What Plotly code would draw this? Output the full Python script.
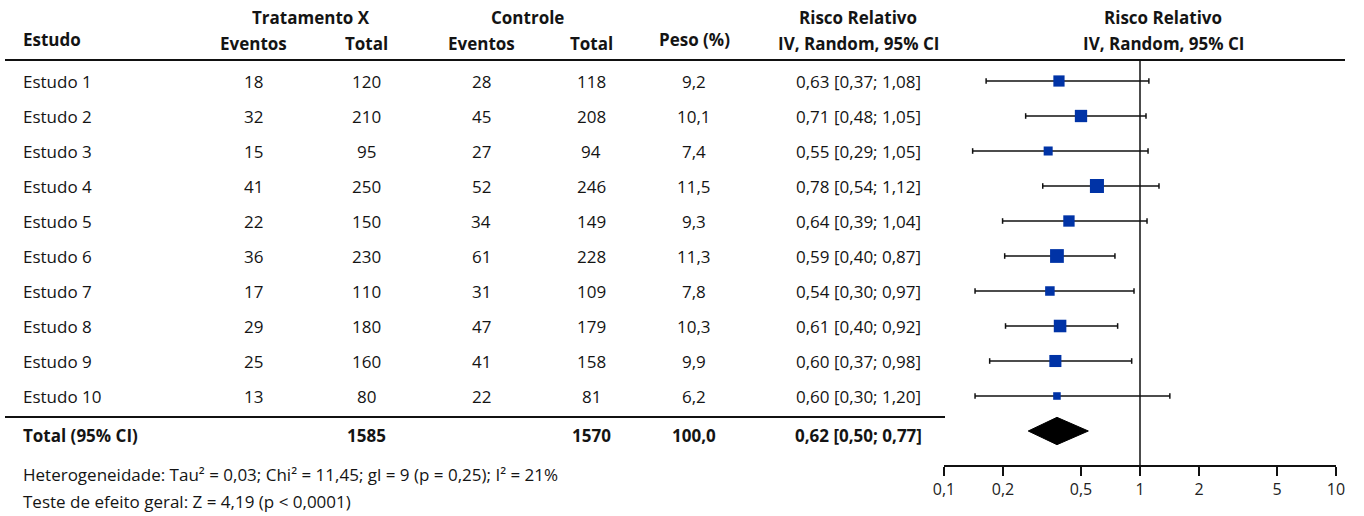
import plotly.graph_objects as go

W, H = 1364, 516

# ---------------- data ----------------
studies = ["Estudo 1", "Estudo 2", "Estudo 3", "Estudo 4", "Estudo 5",
           "Estudo 6", "Estudo 7", "Estudo 8", "Estudo 9", "Estudo 10"]
ev_t = [18, 32, 15, 41, 22, 36, 17, 29, 25, 13]
tot_t = [120, 210, 95, 250, 150, 230, 110, 180, 160, 80]
ev_c = [28, 45, 27, 52, 34, 61, 31, 47, 41, 22]
tot_c = [118, 208, 94, 246, 149, 228, 109, 179, 158, 81]
weights = [9.2, 10.1, 7.4, 11.5, 9.3, 11.3, 7.8, 10.3, 9.9, 6.2]
rr_text = ["0,63 [0,37; 1,08]", "0,71 [0,48; 1,05]", "0,55 [0,29; 1,05]",
           "0,78 [0,54; 1,12]", "0,64 [0,39; 1,04]", "0,59 [0,40; 0,87]",
           "0,54 [0,30; 0,97]", "0,61 [0,40; 0,92]", "0,60 [0,37; 0,98]",
           "0,60 [0,30; 1,20]"]
# positions of the drawn marks (log scale)
rr_pt = [0.386, 0.500, 0.340, 0.603, 0.434, 0.377, 0.347, 0.391, 0.370, 0.377]
rr_lo = [0.164, 0.261, 0.140, 0.319, 0.199, 0.204, 0.144, 0.206, 0.171, 0.144]
rr_hi = [1.11, 1.073, 1.099, 1.25, 1.086, 0.745, 0.932, 0.769, 0.907, 1.42]
tot_pt, tot_lo, tot_hi = 0.377, 0.269, 0.545

total_label = "Total (95% CI)"
total_t = "1585"
total_c = "1570"
total_w = "100,0"
total_rr = "0,62 [0,50; 0,77]"

het_text = "Heterogeneidade: Tau² = 0,03; Chi² = 11,45; gl = 9 (p = 0,25); I² = 21%"
eff_text = "Teste de efeito geral: Z = 4,19 (p < 0,0001)"

tick_vals = [0.1, 0.2, 0.5, 1, 2, 5, 10]
tick_text = ["0,1", "0,2", "0,5", "1", "2", "5", "10"]

# ---------------- style / layout helpers ----------------
FONT = "Open Sans"
TXT = "#141414"
BLUE = "#0033a6"
FS = 17

def px(x):
    return x / W

def py(y):
    return 1 - y / H

ROW0, ROWH = 81, 35   # pixel centre of first row, row spacing
n = len(studies)
total_idx = n

def fmt(v):
    return f"{v:.1f}".replace(".", ",")

fig = go.Figure()

# CI lines
xs, ys = [], []
for i in range(n):
    xs += [rr_lo[i], rr_hi[i], None]
    ys += [i, i, None]
fig.add_trace(go.Scatter(x=xs, y=ys, mode="lines",
                         line=dict(color="#111", width=1.5),
                         hoverinfo="skip", showlegend=False))
# end caps
fig.add_trace(go.Scatter(x=rr_lo + rr_hi, y=list(range(n)) * 2, mode="markers",
                         marker=dict(symbol="line-ns", size=4,
                                     line=dict(color="#111", width=1.5)),
                         hoverinfo="skip", showlegend=False))
# point estimates
fig.add_trace(go.Scatter(x=rr_pt, y=list(range(n)), mode="markers",
                         marker=dict(symbol="square", color=BLUE, opacity=1,
                                     size=[w * 1.22 for w in weights],
                                     line=dict(width=0)),
                         showlegend=False))
# diamond
dh = 0.39
fig.add_trace(go.Scatter(x=[tot_lo, tot_pt, tot_hi, tot_pt, tot_lo],
                         y=[total_idx, total_idx - dh, total_idx, total_idx + dh, total_idx],
                         mode="lines", fill="toself", fillcolor="black",
                         line=dict(color="black", width=1),
                         hoverinfo="skip", showlegend=False))

ann = []

def add_text(text, x, y, yref="y", size=FS, bold=False, anchor="center", yshift=0):
    ann.append(dict(text=f"<b>{text}</b>" if bold else text,
                    x=px(x), xref="paper", y=y, yref=yref,
                    xanchor=anchor, yanchor="middle", showarrow=False,
                    yshift=yshift, borderpad=0,
                    font=dict(family=FONT, size=size, color=TXT)))

col_x = dict(name=22, ev_t=253, tot_t=366, ev_c=481, tot_c=591, w=694, rr=858)

# headers
add_text("Estudo", col_x["name"], py(39), "paper", bold=True, anchor="left")
add_text("Tratamento X", 311, py(18), "paper", bold=True)
add_text("Eventos", col_x["ev_t"], py(43), "paper", bold=True)
add_text("Total", col_x["tot_t"], py(43), "paper", bold=True)
add_text("Controle", 527, py(18), "paper", bold=True)
add_text("Eventos", col_x["ev_c"], py(43), "paper", bold=True)
add_text("Total", col_x["tot_c"], py(43), "paper", bold=True)
add_text("Peso (%)", col_x["w"], py(39), "paper", bold=True)
add_text("Risco Relativo", 858, py(18), "paper", bold=True)
add_text("IV, Random, 95% CI", 858, py(43), "paper", bold=True)
add_text("Risco Relativo", 1163, py(18), "paper", bold=True)
add_text("IV, Random, 95% CI", 1163, py(43), "paper", bold=True)

# rows
for i in range(n):
    add_text(studies[i], col_x["name"], i, anchor="left")
    add_text(str(ev_t[i]), col_x["ev_t"], i)
    add_text(str(tot_t[i]), col_x["tot_t"], i)
    add_text(str(ev_c[i]), col_x["ev_c"], i)
    add_text(str(tot_c[i]), col_x["tot_c"], i)
    add_text(fmt(weights[i]), col_x["w"], i)
    add_text(rr_text[i], col_x["rr"], i)

# total row
add_text(total_label, col_x["name"], total_idx, bold=True, anchor="left", yshift=-4)
add_text(total_t, col_x["tot_t"], total_idx, bold=True, yshift=-4)
add_text(total_c, col_x["tot_c"], total_idx, bold=True, yshift=-4)
add_text(total_w, col_x["w"], total_idx, bold=True, yshift=-4)
add_text(total_rr, col_x["rr"], total_idx, bold=True, yshift=-4)

# footer
add_text(het_text, col_x["name"], py(474), "paper", size=17, anchor="left")
add_text(eff_text, col_x["name"], py(501), "paper", size=17, anchor="left")

shapes = [
    dict(type="line", xref="paper", yref="paper", x0=px(5), x1=px(1345),
         y0=py(60), y1=py(60), line=dict(color="#111", width=2)),
    dict(type="line", xref="paper", yref="paper", x0=px(5), x1=px(945),
         y0=py(417), y1=py(417), line=dict(color="#111", width=2)),
    dict(type="line", xref="x", yref="paper", x0=1, x1=1,
         y0=py(60), y1=py(466), line=dict(color="#111", width=1.5)),
]

y_top = (0 - ROW0) / ROWH
y_bot = (H - ROW0) / ROWH

fig.update_layout(
    width=W, height=H,
    margin=dict(l=0, r=0, t=0, b=0, pad=0, autoexpand=False),
    paper_bgcolor="white", plot_bgcolor="rgba(0,0,0,0)",
    annotations=ann, shapes=shapes,
    xaxis=dict(type="log", range=[-1, 1], domain=[px(944), px(1336)],
               anchor="free", position=py(466), side="bottom",
               showline=True, linecolor="#111", linewidth=1.8,
               ticks="outside", ticklen=9, tickwidth=1.8, tickcolor="#111",
               tickvals=tick_vals, ticktext=tick_text,
               tickfont=dict(family=FONT, size=16, color="#222"),
               showgrid=False, zeroline=False, fixedrange=True,
               automargin=False),
    yaxis=dict(range=[y_bot, y_top], domain=[0, 1], visible=False,
               showgrid=False, zeroline=False, fixedrange=True,
               automargin=False),
    showlegend=False,
)

fig.write_html("out.html", config={"responsive": False, "displayModeBar": False},
               post_script="document.body.style.margin='0';"
                           "document.body.style.overflow='hidden';")
